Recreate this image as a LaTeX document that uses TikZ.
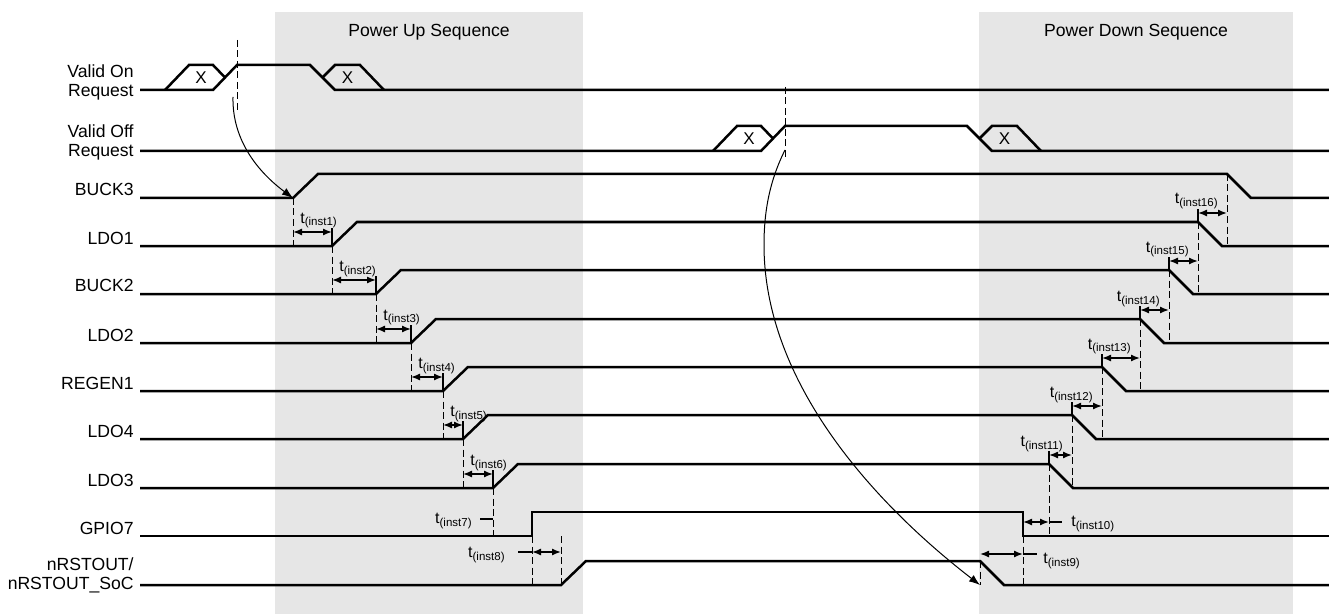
\documentclass[tikz,border=0pt]{standalone}
\definecolor{seqShade}{HTML}{E6E6E6}
\definecolor{sigInk}{HTML}{000000}
\usepackage{fontspec}
\setmainfont{Liberation Sans}
\usepackage{tikz}
\usetikzlibrary{arrows.meta}
\tikzset{
 sigline/.style={draw=sigInk, line width=1.25pt},
 guide/.style={draw=sigInk, line width=0.5pt, dash pattern=on 3.5pt off 1.75pt},
 tickline/.style={draw=sigInk, line width=0.6pt},
 delay/.style={draw=sigInk, line width=0.7pt, {Latex[length=4.5pt,width=3.5pt]}-{Latex[length=4.5pt,width=3.5pt]}},
 cause/.style={draw=sigInk, line width=0.5pt, -{Latex[length=5.5pt,width=4pt]}},
 siglabel/.style={anchor=base east, inner sep=0pt, align=right, font=\fontsize{8.8}{9.3}\selectfont},
 tlabel/.style={inner sep=0pt, font=\fontsize{8}{8.5}\selectfont},
 xmark/.style={inner sep=0pt, font=\fontsize{8.5}{9}\selectfont},
 seqtitle/.style={anchor=base, inner sep=0pt, font=\fontsize{8.8}{9.3}\selectfont}
}
\newcommand{\tinst}[1]{t\raisebox{-1.5pt}{\fontsize{5.75}{6}\selectfont(inst#1)}}
\newcommand{\reqrow}[6]{%
 \node[siglabel, anchor=east] (#1) at (134,#3) {#2};
 \draw[sigline] (140,#4) -- (#5+48,#4) -- ++(24,-25) -- (#6,#4-25) -- ++(25,25) -- (1329,#4);
 \draw[sigline] (#5,#4) -- ++(24,-25) -- ++(24,0) -- ++(12,12.5);
 \draw[sigline] (#6+12.5,#4-12.5) -- ++(12.5,-12.5) -- ++(25,0) -- ++(24,25);
 \node[xmark] (#1x1) at (#5+36,#4-12.5) {X};
 \node[xmark] (#1x2) at (#6+37.5,#4-12.5) {X};}
\newcommand{\ramprow}[5]{%
 \node[siglabel] (#1) at (134,#3-2) {#2};
 \draw[sigline] (140,#3) -- (#4,#3) -- ++(25,-24) -- (#5,#3-24) -- ++(24,24) -- (1329,#3);
 \coordinate (#1up) at (#4,#3);}
\newcommand{\updelay}[5]{%
 \draw[guide] (#2,#3) -- (#2,#5);
 \draw[tickline] (#4,#5-18) -- (#4,#5);
 \draw[delay] (#2,#5-14) -- (#4,#5-14);
 \node[tlabel, anchor=base west] (ti#1) at (#2+7,#5-23) {\tinst{#1}};}
\newcommand{\dndelay}[5]{%
 \draw[guide] (#2,#3) -- (#2,#5+24);
 \draw[tickline] (#4,#5-13) -- (#4,#5);
 \draw[delay] (#4,#5-9) -- (#2,#5-9);
 \node[tlabel, anchor=base east] (ti#1) at (#2-9,#5-18) {\tinst{#1}};}
\begin{document}
\begin{tikzpicture}[x=0.5pt,y=-0.5pt]
\useasboundingbox (0,0) rectangle (1329,615);
\fill[seqShade] (275,12) rectangle (583,614);
\fill[seqShade] (979,12) rectangle (1293,614);
\node[seqtitle] (pup) at (429,37) {Power Up Sequence};
\node[seqtitle] (pdown) at (1136,37) {Power Down Sequence};

\reqrow{onreq}{Valid On\\Request}{82.5}{90}{165}{310}
\reqrow{offreq}{Valid Off\\Request}{142.5}{151}{713}{967}
\draw[guide] (237,40) -- (237,110);
\draw[guide] (785,87) -- (785,158);
\coordinate (ongo) at (233,97);
\coordinate (offgo) at (785,150);

\ramprow{buck3}{BUCK3}{198}{293}{1227}
\ramprow{ldo1}{LDO1}{246}{332}{1198}
\ramprow{buck2}{BUCK2}{294}{376}{1169}
\ramprow{ldo2}{LDO2}{343}{411}{1140}
\ramprow{regen1}{REGEN1}{391}{443}{1102}
\ramprow{ldo4}{LDO4}{439}{463}{1072}
\ramprow{ldo3}{LDO3}{488}{493}{1049}
\node[siglabel] (gpio7) at (134,534) {GPIO7};
\draw[sigline] (140,536) -- (532,536) -- (532,512) -- (1023,512) -- (1023,536) -- (1329,536);
\node[siglabel, anchor=east] (nrst) at (134,575.5) {nRSTOUT/\\nRSTOUT\_SoC};
\draw[sigline] (140,585) -- (561,585) -- ++(25,-24) -- (980,561) -- ++(24,24) -- (1329,585);
\coordinate (nrstfall) at (980,585);

\updelay{1}{293}{198}{332}{246}
\updelay{2}{332}{246}{376}{294}
\updelay{3}{376}{294}{411}{343}
\updelay{4}{411}{343}{443}{391}
\updelay{5}{443}{391}{463}{439}
\updelay{6}{463}{439}{493}{488}
\draw[guide] (493,488) -- (493,536);
\draw[tickline] (480,519) -- (493,519);
\node[tlabel, anchor=base east] (ti7) at (472,523) {\tinst{7}};
\draw[guide] (532,536) -- (532,585);
\draw[guide] (561,536) -- (561,585);
\draw[tickline] (518,552) -- (532,552);
\draw[delay] (532,552) -- (561,552);
\node[tlabel, anchor=base east] (ti8) at (505,557) {\tinst{8}};

\dndelay{16}{1227}{174}{1198}{222}
\dndelay{15}{1198}{222}{1169}{270}
\dndelay{14}{1169}{270}{1140}{319}
\dndelay{13}{1140}{319}{1102}{367}
\dndelay{12}{1102}{367}{1072}{415}
\dndelay{11}{1072}{415}{1049}{464}
\draw[guide] (1049,464) -- (1049,536);
\draw[delay] (1023,522) -- (1049,522);
\draw[tickline] (1049,522) -- (1062,522);
\node[tlabel, anchor=base west] (ti10) at (1071,526) {\tinst{10}};
\draw[guide] (980,561) -- (980,585);
\draw[guide] (1023,536) -- (1023,585);
\draw[delay] (980,554) -- (1023,554);
\draw[tickline] (1023,554) -- (1037,554);
\node[tlabel, anchor=base west] (ti9) at (1043,563) {\tinst{9}};

\draw[cause] (ongo) .. controls (232,140) and (258,172) .. (buck3up);
\draw[cause] (offgo) .. controls (770,180) and (764,210) .. (764,245) .. controls (764,380) and (870,500) .. (nrstfall);
\end{tikzpicture}
\end{document}
